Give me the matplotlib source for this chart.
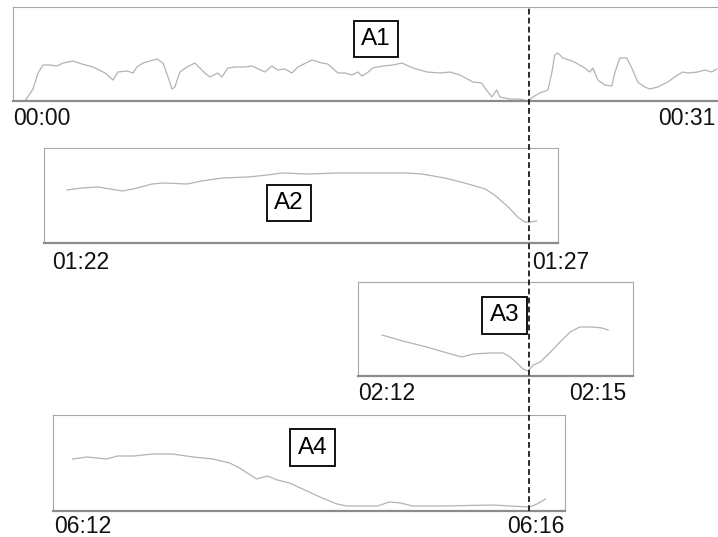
import matplotlib
matplotlib.use('Agg')
import matplotlib.pyplot as plt
from matplotlib.lines import Line2D

plt.rcParams['font.family'] = ['Liberation Sans', 'DejaVu Sans']

W, H = 718, 537

# segment A1: whole recording, time in seconds, amplitude in arbitrary units
a1_t = [0.0, 0.53, 0.88, 1.10, 1.32, 1.63, 1.93, 2.20, 2.64, 3.03,
        3.52, 4.05, 4.40, 4.62, 5.01, 5.28, 5.45, 5.72, 6.33, 6.60,
        6.82, 6.99, 7.12, 7.34, 7.65, 8.00, 8.44, 8.66, 9.01, 9.19,
        9.45, 9.76, 10.20, 10.51, 11.08, 11.39, 11.65, 11.96, 12.27, 12.53,
        13.15, 13.59, 13.85, 14.29, 14.60, 14.91, 15.17, 15.35, 15.57, 15.83,
        16.27, 16.71, 17.11, 17.59, 18.21, 18.78, 19.22, 19.66, 20.23, 20.62,
        20.76, 21.06, 21.28, 21.42, 21.86, 22.30, 22.65, 22.87, 23.17, 23.53,
        23.70, 23.83, 23.97, 24.19, 24.59, 24.85, 25.15, 25.37, 25.51, 25.73,
        26.03, 26.34, 26.47, 26.69, 27.00, 27.22, 27.48, 27.79, 28.01, 28.36,
        28.80, 29.24, 29.46, 29.68, 30.12, 30.43, 30.74, 30.96]
a1_v = [0, 0, 12, 28, 36, 36, 35, 38, 40, 37,
        34, 28, 21, 29, 30, 28, 34, 38, 42, 38,
        24, 12, 14, 29, 34, 38, 28, 24, 28, 24,
        33, 34, 34, 35, 29, 35, 31, 32, 28, 34,
        41, 38, 37, 28, 28, 26, 29, 25, 28, 33,
        35, 36, 38, 33, 29, 28, 29, 26, 19, 18,
        13, 4, 11, 4, 2, 2, 0, 4, 8, 11,
        28, 46, 48, 43, 40, 37, 33, 29, 33, 21,
        16, 15, 28, 43, 43, 33, 19, 14, 12, 14,
        19, 26, 29, 28, 29, 31, 29, 32]

a2_t = [81.77, 81.94, 82.13, 82.27, 82.42, 82.59, 82.76, 82.89, 83.17, 83.34,
        83.58, 83.88, 84.11, 84.28, 84.58, 84.93, 85.33, 85.75, 85.91, 86.18,
        86.41, 86.65, 86.76, 86.92, 87.03, 87.11, 87.17, 87.25]
a2_v = [53, 55, 56, 54, 52, 55, 59, 60, 59, 62,
        65, 66, 68, 70, 69, 70, 70, 70, 69, 65,
        60, 54, 48, 36, 26, 21, 21, 22]

a3_t = [132.28, 132.52, 132.80, 133.04, 133.21, 133.34, 133.54, 133.69, 133.77,
        133.85, 133.92, 133.98, 134.04, 134.12, 134.23, 134.35, 134.47, 134.58,
        134.73, 134.84, 134.91]
a3_v = [41, 35, 29, 23, 19, 22, 23, 23, 19,
        13, 7, 5, 11, 14, 23, 34, 44, 49,
        49, 48, 46]

a4_t = [372.16, 372.28, 372.44, 372.53, 372.66, 372.82, 372.98, 373.15, 373.31,
        373.45, 373.53, 373.67, 373.76, 373.84, 373.94, 374.03, 374.19, 374.33,
        374.41, 374.66, 374.76, 374.85, 374.95, 375.20, 375.61, 375.75, 375.91,
        375.97, 376.04]
a4_v = [52, 54, 52, 55, 55, 57, 57, 54, 52,
        48, 43, 32, 35, 31, 28, 23, 14, 7,
        5, 5, 9, 8, 5, 5, 6, 5, 4,
        7, 12]

names = ['A1', 'A2', 'A3', 'A4']
start_labels = ['00:00', '01:22', '02:12', '06:12']
end_labels = ['00:31', '01:27', '02:15', '06:16']

event_t = 22.69  # marker time on the A1 scale

fig = plt.figure(figsize=(W / 100, H / 100), dpi=100)


def panel(left, top, right, bottom):
    ax = fig.add_axes([left / W, 1 - bottom / H, (right - left) / W, (bottom - top) / H])
    for side in ['left', 'right', 'top']:
        ax.spines[side].set_color('#a8a8a8')
        ax.spines[side].set_linewidth(0.8)
    ax.spines['bottom'].set_color('#8c8c8c')
    ax.spines['bottom'].set_linewidth(1.6)
    ax.set_xticks([])
    ax.set_yticks([])
    return ax


# (pixel box, xlim, ylim, label centre, start label x/ha, end label x/ha, label gap)
panels = [
    ((13, 7, 720, 101), (0, 31.1), (0, 94), (0.513, 0.66), (0.0, 'left'), (0.993, 'right'), 4.5),
    ((44, 148, 558, 243), (81.5, 87.5), (0, 95), (0.477, 0.42), (0.016, 'left'), (0.949, 'left'), 5.5),
    ((358, 282, 633, 376), (132, 135.2), (0, 94), (0.533, 0.644), (0.0, 'left'), (0.975, 'right'), 4),
    ((53, 415, 565, 511), (372, 376.2), (0, 96), (0.507, 0.66), (0.002, 'left'), (1.0, 'right'), 3),
]
series = [(a1_t, a1_v), (a2_t, a2_v), (a3_t, a3_v), (a4_t, a4_v)]

axes = []
for i, (box, xl, yl, lab, s_lab, e_lab, gap) in enumerate(panels):
    ax = panel(*box)
    t, v = series[i]
    ax.plot(t, v, color='#b3b3b3', lw=0.9, clip_on=False)
    ax.set_xlim(*xl)
    ax.set_ylim(*yl)
    ax.text(lab[0], lab[1], names[i], transform=ax.transAxes, ha='center', va='center',
            fontsize=17.5, zorder=5,
            bbox=dict(boxstyle='square,pad=0.3', fc='white', ec='black', lw=1.3))
    for txt, (fx, ha) in [(start_labels[i], s_lab), (end_labels[i], e_lab)]:
        ax.annotate(txt, (fx, 0), xycoords='axes fraction',
                    xytext=(0, -gap), textcoords='offset points', ha=ha, va='top',
                    fontsize=16.5, color='#111111', annotation_clip=False)
    axes.append(ax)

# dashed marker running from the top of A1 down to the bottom of A4
xf = axes[0].transData.transform((event_t, 0))[0] / fig.bbox.width
y_top = axes[0].get_position().y1
y_bot = axes[3].get_position().y0
fig.add_artist(Line2D([xf, xf], [y_bot, y_top], transform=fig.transFigure,
                      color='#1a1a1a', lw=1.3, ls=(0, (3.2, 1.8)), zorder=10))

fig.savefig('out.png', dpi=100)
